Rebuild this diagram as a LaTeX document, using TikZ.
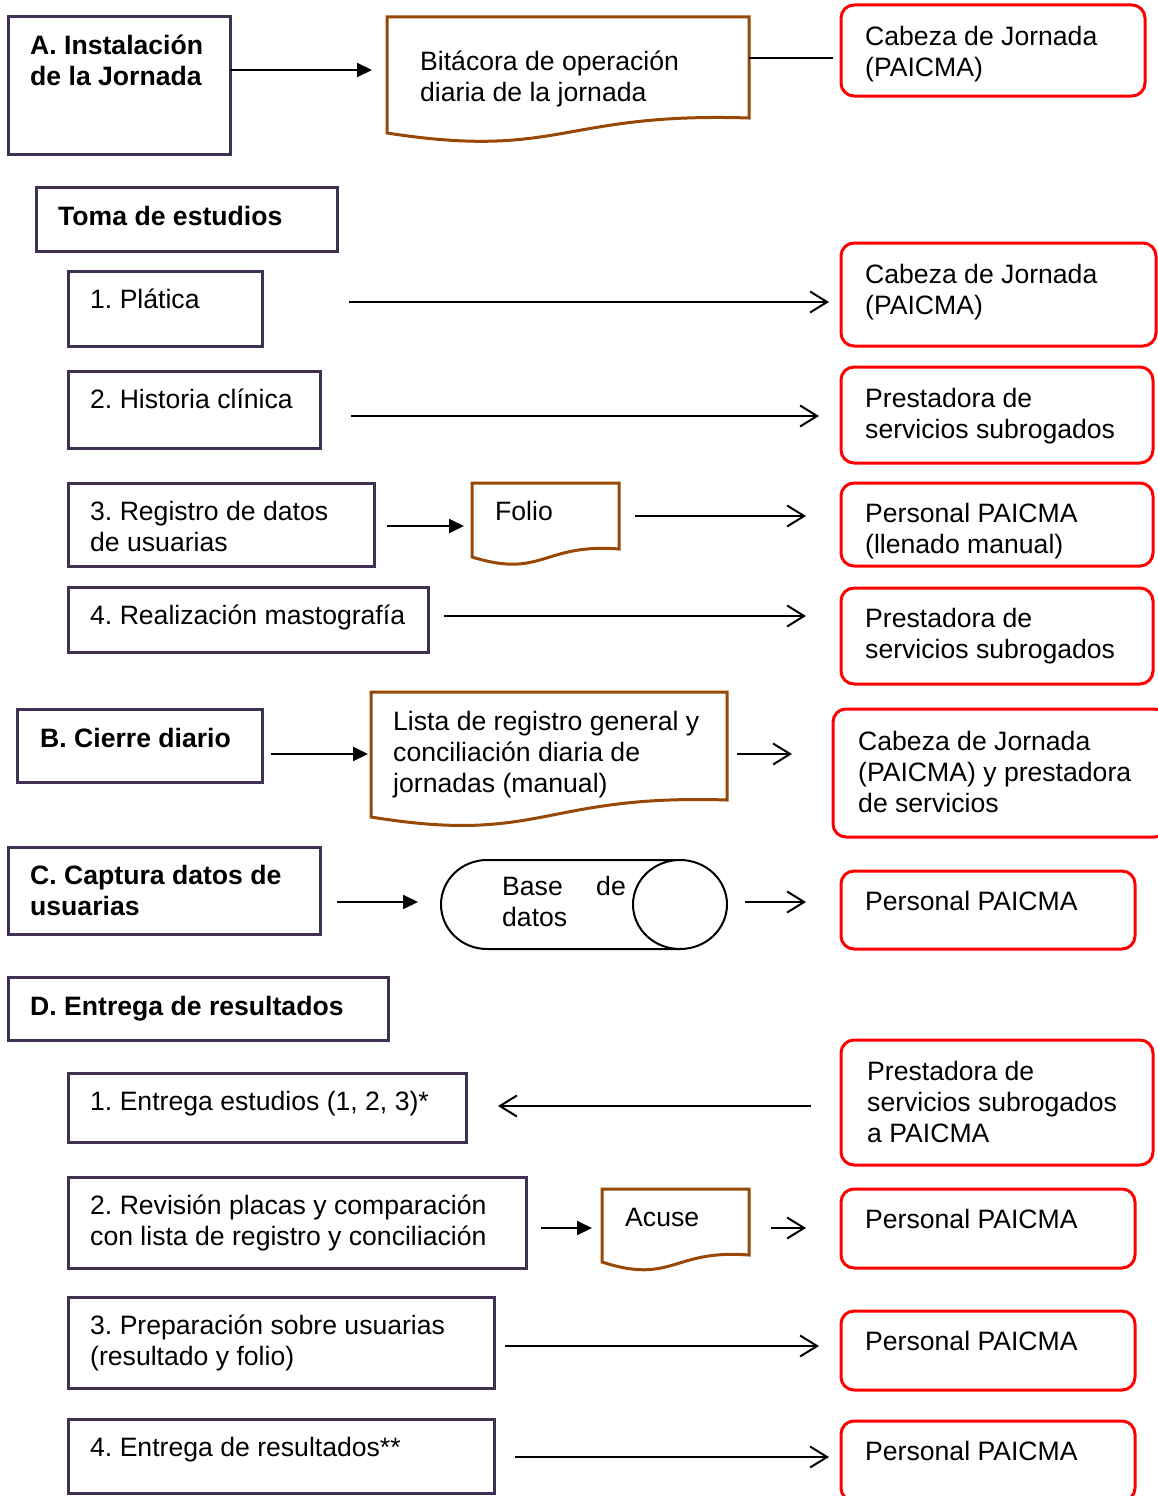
\documentclass[tikz,border=0pt]{standalone}
\usepackage{fontspec}
\setmainfont{Liberation Sans}
\usetikzlibrary{calc,arrows.meta}
\frenchspacing

\definecolor{boxpurple}{RGB}{64,49,82}
\definecolor{docbrown}{RGB}{152,72,6}
\newcommand{\basefont}{\fontsize{26.6}{31}\selectfont}

\tikzset{
  intxt/.style 2 args={anchor=base west, align=left, inner sep=0pt, xshift=#1pt, yshift=-#2pt},
  bold/.style={font=\basefont\bfseries},
  pbox/.style={draw=boxpurple, line width=3pt, anchor=north west, inner sep=0pt, outer sep=0pt},
  rbox/.style={draw=red, line width=3pt, rounded corners=13pt, anchor=north west, inner sep=0pt, outer sep=0pt},
  dbox/.style={anchor=north west, inner sep=0pt, outer sep=0pt},
  docline/.style={draw=docbrown, line width=3pt},
  fillarr/.style={line width=2pt, -{Triangle[length=15pt, width=14pt]}},
  openarr/.style={line width=2pt, -{Straight Barb[length=17pt, width=21pt]}},
}

% document shape: node, drop of left corner, depth of the wave
\newcommand{\docshape}[3]{%
  \draw[docline] (#1.south east) -- (#1.north east) -- (#1.north west) -- ([yshift=-#2pt]#1.south west)
    .. controls ($(#1.south west)!0.48!(#1.south east)+(0,#3)$) and ($(#1.south west)!0.48!(#1.south east)+(0,-6)$) .. cycle;}

\begin{document}
\begin{tikzpicture}[x=1pt, y=-1pt, font=\basefont]
\useasboundingbox[fill=white] (0,0) rectangle (1158,1496);

% A. Instalacion
\node[pbox, minimum width=222, minimum height=137, label={[intxt={22}{68.5}, bold]north west:A. Instalación\\de la Jornada}] (inst) at (8,17) {};
\node[dbox, minimum width=362, minimum height=101, label={[intxt={33}{84.5}]north west:Bitácora de operación\\diaria de la jornada}] (bit) at (387,17) {};
\node[rbox, minimum width=304, minimum height=91, label={[intxt={24}{71.5}]north west:Cabeza de Jornada\\(PAICMA)}] (r1) at (841,5) {};

% Toma de estudios
\node[pbox, minimum width=301, minimum height=64, label={[intxt={22}{38.5}, bold]north west:Toma de estudios}] (toma) at (36,187) {};
\node[pbox, minimum width=194, minimum height=75, label={[intxt={22}{37.5}]north west:1. Plática}] (plat) at (68,271) {};
\node[rbox, minimum width=315, minimum height=103, label={[intxt={24}{71.5}]north west:Cabeza de Jornada\\(PAICMA)}] (r2) at (841,243) {};
\node[pbox, minimum width=252, minimum height=77, label={[intxt={22}{37.5}]north west:2. Historia clínica}] (hist) at (68,371) {};
\node[rbox, minimum width=312, minimum height=96, label={[intxt={24}{71.5}]north west:Prestadora de\\servicios subrogados}] (r3) at (841,367) {};
\node[pbox, minimum width=306, minimum height=83, label={[intxt={22}{68.5}]north west:3. Registro de datos\\de usuarias}] (reg) at (68,483) {};
\node[dbox, minimum width=147, minimum height=66, label={[intxt={23}{37.5}]north west:Folio}] (folio) at (472,483) {};
\node[rbox, minimum width=312, minimum height=83, label={[intxt={24}{70.5}]north west:Personal PAICMA\\(llenado manual)}] (r4) at (841,483) {};
\node[pbox, minimum width=360, minimum height=65, label={[intxt={22}{37.5}]north west:4. Realización mastografía}] (real) at (68,587) {};
\node[rbox, minimum width=312, minimum height=96, label={[intxt={24}{70.5}]north west:Prestadora de\\servicios subrogados}] (r5) at (841,588) {};

% B. Cierre diario
\node[pbox, minimum width=245, minimum height=73, label={[intxt={23}{38.5}, bold]north west:B. Cierre diario}] (cierre) at (17,709) {};
\node[dbox, minimum width=356, minimum height=108, label={[intxt={22}{100.5}]north west:Lista de registro general y\\conciliación diaria de\\jornadas (manual)}] (lista) at (371,692) {};
\node[rbox, minimum width=335, minimum height=128, label={[intxt={25}{103.5}]north west:Cabeza de Jornada\\(PAICMA) y prestadora\\de servicios}] (r6) at (833,709) {};

% C. Captura
\node[pbox, minimum width=312, minimum height=87, label={[intxt={22}{68.5}, bold]north west:C. Captura datos de\\usuarias}] (captura) at (8,847) {};
\node[dbox, minimum width=286, minimum height=89, label={[intxt={61}{66.5}]north west:Base\hspace{33.4pt}de\\datos}] (db) at (441,860) {};
\node[rbox, minimum width=294, minimum height=78, label={[intxt={24}{39.5}]north west:Personal PAICMA}] (r7) at (841,871) {};

% D. Entrega de resultados
\node[pbox, minimum width=380, minimum height=63, label={[intxt={22}{38.5}, bold]north west:D. Entrega de resultados}] (entrega) at (8,977) {};
\node[pbox, minimum width=398, minimum height=69, label={[intxt={22}{37.5}]north west:{1. Entrega estudios (1, 2, 3)*}}] (estud) at (68,1073) {};
\node[rbox, minimum width=312, minimum height=125, label={[intxt={26}{102.5}]north west:Prestadora de\\servicios subrogados\\a PAICMA}] (r8) at (841,1040) {};
\node[pbox, minimum width=458, minimum height=91, label={[intxt={22}{68.5}]north west:2. Revisión placas y comparación\\con lista de registro y conciliación}] (revis) at (68,1177) {};
\node[dbox, minimum width=147, minimum height=66, label={[intxt={23}{37.5}]north west:Acuse}] (acuse) at (602,1189) {};
\node[rbox, minimum width=294, minimum height=79, label={[intxt={24}{39.5}]north west:Personal PAICMA}] (r9) at (841,1189) {};
\node[pbox, minimum width=426, minimum height=91, label={[intxt={22}{68.5}]north west:3. Preparación sobre usuarias\\(resultado y folio)}] (prep) at (68,1297) {};
\node[rbox, minimum width=294, minimum height=79, label={[intxt={24}{39.5}]north west:Personal PAICMA}] (r10) at (841,1311) {};
\node[pbox, minimum width=426, minimum height=74, label={[intxt={22}{37.5}]north west:4. Entrega de resultados**}] (result) at (68,1419) {};
\node[rbox, minimum width=294, minimum height=80, label={[intxt={24}{39.5}]north west:Personal PAICMA}] (r11) at (841,1421) {};

% documents and data base
\docshape{bit}{15}{42}
\docshape{folio}{8}{30}
\docshape{lista}{17}{45}
\docshape{acuse}{7}{30}
\draw[line width=2pt] ([xshift=46pt]db.north west) -- ([xshift=-47pt]db.north east)
  ([xshift=46pt]db.south west) -- ([xshift=-47pt]db.south east)
  ([xshift=46pt]db.north west) arc[start angle=90, end angle=270, x radius=46pt, y radius=44.5pt]
  ([xshift=-47pt]db.east) ellipse[x radius=47pt, y radius=44.5pt];

% connectors
\draw[fillarr, shorten >=15pt] ([yshift=15.5pt]inst.east) -- ([yshift=15.5pt]inst.east -| bit.west);
\draw[line width=2pt, shorten >=8pt] ([yshift=9.5pt]bit.east) -- ([yshift=9.5pt]bit.east -| r1.west);
\draw[openarr, shorten <=87pt, shorten >=12pt] ([yshift=6.5pt]plat.east) -- ([yshift=6.5pt]plat.east -| r2.west);
\draw[openarr, shorten <=31pt, shorten >=22pt] ([yshift=-6.5pt]hist.east) -- ([yshift=-6.5pt]hist.east -| r3.west);
\draw[fillarr, shorten <=13pt, shorten >=8pt] ([yshift=-1.5pt]reg.east) -- ([yshift=-1.5pt]reg.east -| folio.west);
\draw[openarr, shorten <=16pt, shorten >=35pt] (folio.east) -- (folio.east -| r4.west);
\draw[openarr, shorten <=16pt, shorten >=35pt] ([yshift=3.5pt]real.east) -- ([yshift=3.5pt]real.east -| r5.west);
\draw[fillarr, shorten <=9pt, shorten >=3pt] ([yshift=-8.5pt]cierre.east) -- ([yshift=-8.5pt]cierre.east -| lista.west);
\draw[openarr, shorten <=10pt, shorten >=41pt] ([yshift=-8pt]lista.east) -- ([yshift=-8pt]lista.east -| r6.west);
\draw[fillarr, shorten <=17pt, shorten >=23pt] ([yshift=-11.5pt]captura.east) -- ([yshift=-11.5pt]captura.east -| db.west);
\draw[openarr, shorten <=18pt, shorten >=35pt] ([yshift=2.5pt]db.east) -- ([yshift=2.5pt]db.east -| r7.west);
\draw[openarr, shorten <=30pt, shorten >=32pt] ([yshift=-3.5pt]r8.west) -- ([yshift=-3.5pt]r8.west -| estud.east);
\draw[fillarr, shorten <=15pt, shorten >=10pt] ([yshift=-5.5pt]revis.east) -- ([yshift=-5.5pt]revis.east -| acuse.west);
\draw[openarr, shorten <=22pt, shorten >=35pt] ([yshift=-6pt]acuse.east) -- ([yshift=-6pt]acuse.east -| r9.west);
\draw[openarr, shorten <=11pt, shorten >=22pt] ([yshift=-3.5pt]prep.east) -- ([yshift=-3.5pt]prep.east -| r10.west);
\draw[openarr, shorten <=21pt, shorten >=12pt] ([yshift=-1pt]result.east) -- ([yshift=-1pt]result.east -| r11.west);
\end{tikzpicture}
\end{document}
